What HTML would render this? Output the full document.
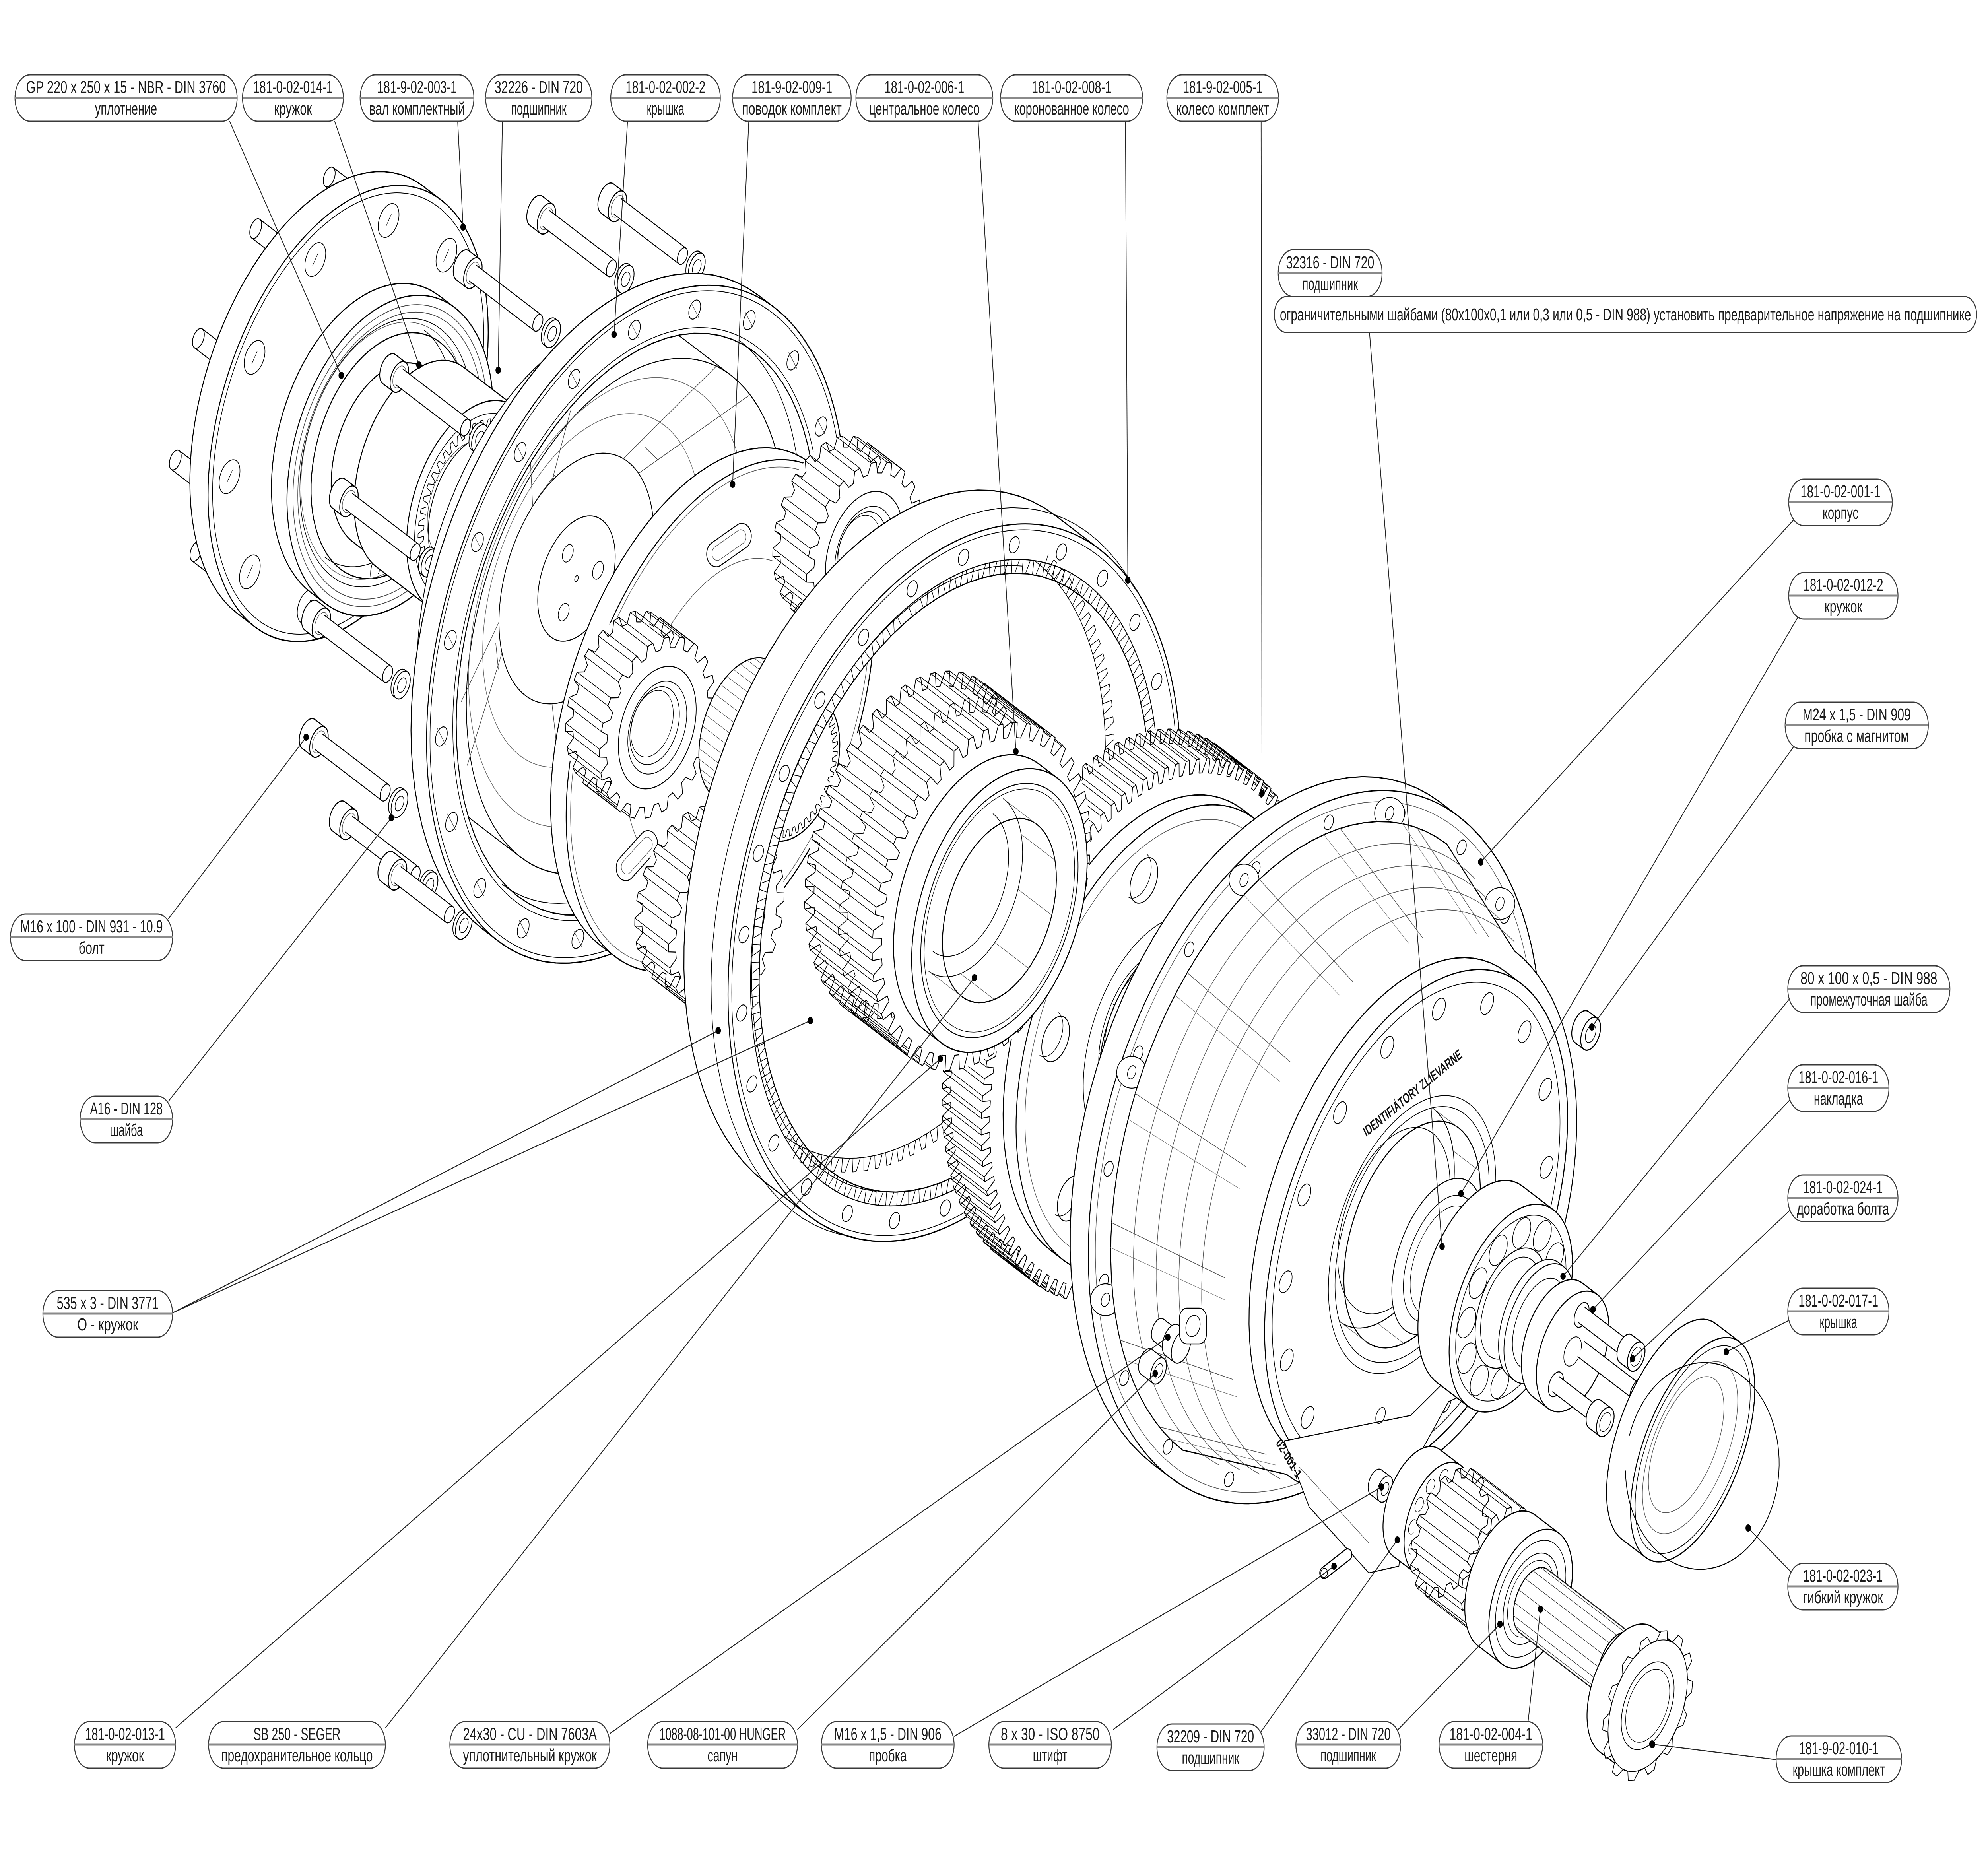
<!DOCTYPE html>
<html><head><meta charset="utf-8">
<style>
html,body{margin:0;padding:0;background:#fff;width:100%;height:100%;overflow:hidden;}
svg#s{display:block;width:100vw;height:100vh;}
.lb rect{fill:#fff;stroke:#3a3a3a;stroke-width:3}
.lb line{stroke:#8a8a8a;stroke-width:5}
.lb text{font-family:"Liberation Sans Narrow","Liberation Sans","Noto Sans CJK SC",sans-serif;font-size:44px;fill:#1a1a1a;text-anchor:middle}
.ld line{stroke:#222;stroke-width:2.5}
.ld circle{fill:#000}
</style></head>
<body>
<svg id="s" viewBox="0 0 6624 4673" preserveAspectRatio="none" xmlns="http://www.w3.org/2000/svg">
<rect width="6624" height="4673" fill="#fff"/>
<g id="draw" fill="none" stroke="#000" stroke-width="3" stroke-linejoin="round"></g>
<g id="txt" font-family="Liberation Sans, sans-serif" fill="#111">
<text x="0" y="0" font-size="36" font-weight="bold" textLength="380" lengthAdjust="spacingAndGlyphs" transform="translate(4552,2860) rotate(-32)">IDENTIFIÁTORY ZLIEVARNE</text>
<text x="0" y="0" font-size="34" font-weight="bold" textLength="115" lengthAdjust="spacingAndGlyphs" transform="translate(4250,3630) rotate(52)">02-001-1</text>
</g>
<g class="ld">
<line x1="765" y1="305" x2="1137" y2="944"/><circle cx="1137" cy="944" r="9"/>
<line x1="1115" y1="305" x2="1396" y2="918"/><circle cx="1396" cy="918" r="9"/>
<line x1="1525" y1="305" x2="1543" y2="571"/><circle cx="1543" cy="571" r="9"/>
<line x1="1674" y1="305" x2="1660" y2="931"/><circle cx="1660" cy="931" r="9"/>
<line x1="2091" y1="305" x2="2046" y2="841"/><circle cx="2046" cy="841" r="9"/>
<line x1="2495" y1="305" x2="2441" y2="1218"/><circle cx="2441" cy="1218" r="9"/>
<line x1="3259" y1="305" x2="3385" y2="1890"/><circle cx="3385" cy="1890" r="9"/>
<line x1="3750" y1="305" x2="3758" y2="1459"/><circle cx="3758" cy="1459" r="9"/>
<line x1="4202" y1="305" x2="4205" y2="1995"/><circle cx="4205" cy="1995" r="9"/>
<line x1="4563" y1="835" x2="4805" y2="3135"/><circle cx="4805" cy="3135" r="9"/>
<line x1="5977" y1="1307" x2="4934" y2="2168"/><circle cx="4934" cy="2168" r="9"/>
<line x1="5993" y1="1549" x2="4868" y2="3002"/><circle cx="4868" cy="3002" r="9"/>
<line x1="5988" y1="1866" x2="5304" y2="2583"/><circle cx="5304" cy="2583" r="9"/>
<line x1="5979" y1="2497" x2="5208" y2="3210"/><circle cx="5208" cy="3210" r="9"/>
<line x1="5979" y1="2754" x2="5308" y2="3293"/><circle cx="5308" cy="3293" r="9"/>
<line x1="5988" y1="3027" x2="5440" y2="3417"/><circle cx="5440" cy="3417" r="9"/>
<line x1="5971" y1="3317" x2="5752" y2="3400"/><circle cx="5752" cy="3400" r="9"/>
<line x1="5971" y1="3956" x2="5825" y2="3843"/><circle cx="5825" cy="3843" r="9"/>
<line x1="5922" y1="4426" x2="5505" y2="4387"/><circle cx="5505" cy="4387" r="10"/>
<line x1="561" y1="2311" x2="1020" y2="1854"/><circle cx="1020" cy="1854" r="9"/>
<line x1="561" y1="2770" x2="1304" y2="2057"/><circle cx="1304" cy="2057" r="9"/>
<line x1="575" y1="3302" x2="2393" y2="2592"/><circle cx="2393" cy="2592" r="9"/>
<line x1="575" y1="3302" x2="2700" y2="2567"/><circle cx="2700" cy="2567" r="9"/>
<line x1="585" y1="4346" x2="3133" y2="2663"/><circle cx="3133" cy="2663" r="9"/>
<line x1="1284" y1="4346" x2="3247" y2="2459"/><circle cx="3247" cy="2459" r="9"/>
<line x1="2032" y1="4360" x2="3891" y2="3363"/><circle cx="3891" cy="3363" r="9"/>
<line x1="2657" y1="4350" x2="3849" y2="3454"/><circle cx="3849" cy="3454" r="9"/>
<line x1="3179" y1="4367" x2="4603" y2="3740"/><circle cx="4603" cy="3740" r="9"/>
<line x1="3709" y1="4350" x2="4445" y2="3939"/><circle cx="4445" cy="3939" r="9"/>
<line x1="4201" y1="4356" x2="4656" y2="3873"/><circle cx="4656" cy="3873" r="9"/>
<line x1="4657" y1="4351" x2="4998" y2="4085"/><circle cx="4998" cy="4085" r="9"/>
<line x1="5091" y1="4334" x2="5133" y2="4047"/><circle cx="5133" cy="4047" r="9"/>
</g>
<g class="lb">
<rect x="50" y="188" width="740" height="117" rx="50" ry="58"/><line x1="50" y1="246" x2="790" y2="246"/>
<text x="420" y="234" textLength="666" lengthAdjust="spacingAndGlyphs">GP 220 x 250 x 15 - NBR - DIN 3760</text>
<text x="420" y="288" textLength="207" lengthAdjust="spacingAndGlyphs">уплотнение</text>

<rect x="808" y="188" width="336" height="117" rx="50" ry="58"/><line x1="808" y1="246" x2="1144" y2="246"/>
<text x="976" y="234" textLength="266" lengthAdjust="spacingAndGlyphs">181-0-02-014-1</text>
<text x="976" y="288" textLength="126" lengthAdjust="spacingAndGlyphs">кружок</text>

<rect x="1200" y="188" width="379" height="117" rx="50" ry="58"/><line x1="1200" y1="246" x2="1579" y2="246"/>
<text x="1389.5" y="234" textLength="266" lengthAdjust="spacingAndGlyphs">181-9-02-003-1</text>
<text x="1389.5" y="288" textLength="319" lengthAdjust="spacingAndGlyphs">вал комплектный</text>

<rect x="1618" y="188" width="354" height="117" rx="50" ry="58"/><line x1="1618" y1="246" x2="1972" y2="246"/>
<text x="1795" y="234" textLength="294" lengthAdjust="spacingAndGlyphs">32226 - DIN 720</text>
<text x="1795" y="288" textLength="185" lengthAdjust="spacingAndGlyphs">подшипник</text>

<rect x="2035" y="188" width="365" height="117" rx="50" ry="58"/><line x1="2035" y1="246" x2="2400" y2="246"/>
<text x="2217.5" y="234" textLength="266" lengthAdjust="spacingAndGlyphs">181-0-02-002-2</text>
<text x="2217.5" y="288" textLength="125" lengthAdjust="spacingAndGlyphs">крышка</text>

<rect x="2441" y="188" width="395" height="117" rx="50" ry="58"/><line x1="2441" y1="246" x2="2836" y2="246"/>
<text x="2638.5" y="234" textLength="269" lengthAdjust="spacingAndGlyphs">181-9-02-009-1</text>
<text x="2638.5" y="288" textLength="332" lengthAdjust="spacingAndGlyphs">поводок комплект</text>

<rect x="2852" y="188" width="456" height="117" rx="50" ry="58"/><line x1="2852" y1="246" x2="3308" y2="246"/>
<text x="3080" y="234" textLength="266" lengthAdjust="spacingAndGlyphs">181-0-02-006-1</text>
<text x="3080" y="288" textLength="369" lengthAdjust="spacingAndGlyphs">центральное колесо</text>

<rect x="3334" y="188" width="473" height="117" rx="50" ry="58"/><line x1="3334" y1="246" x2="3807" y2="246"/>
<text x="3570.5" y="234" textLength="266" lengthAdjust="spacingAndGlyphs">181-0-02-008-1</text>
<text x="3570.5" y="288" textLength="383" lengthAdjust="spacingAndGlyphs">коронованное колесо</text>

<rect x="3888" y="188" width="372" height="117" rx="50" ry="58"/><line x1="3888" y1="246" x2="4260" y2="246"/>
<text x="4074" y="234" textLength="266" lengthAdjust="spacingAndGlyphs">181-9-02-005-1</text>
<text x="4074" y="288" textLength="309" lengthAdjust="spacingAndGlyphs">колесо комплект</text>

<rect x="4259" y="628" width="346" height="118" rx="50" ry="58"/><line x1="4259" y1="687" x2="4605" y2="687"/>
<text x="4432" y="675" textLength="294" lengthAdjust="spacingAndGlyphs">32316 - DIN 720</text>
<text x="4432" y="729" textLength="185" lengthAdjust="spacingAndGlyphs">подшипник</text>

<rect x="4246" y="746" width="2340" height="90" rx="40" ry="45"/>
<text x="5416" y="806" textLength="2303" lengthAdjust="spacingAndGlyphs">ограничительными шайбами (80x100x0,1 или 0,3 или 0,5 - DIN 988) установить предварительное напряжение на подшипнике</text>

<rect x="5960" y="1205" width="345" height="117" rx="50" ry="58"/><line x1="5960" y1="1263" x2="6305" y2="1263"/>
<text x="6132.5" y="1251" textLength="266" lengthAdjust="spacingAndGlyphs">181-0-02-001-1</text>
<text x="6132.5" y="1305" textLength="120" lengthAdjust="spacingAndGlyphs">корпус</text>

<rect x="5960" y="1440" width="364" height="117" rx="50" ry="58"/><line x1="5960" y1="1498" x2="6324" y2="1498"/>
<text x="6142" y="1486" textLength="266" lengthAdjust="spacingAndGlyphs">181-0-02-012-2</text>
<text x="6142" y="1540" textLength="126" lengthAdjust="spacingAndGlyphs">кружок</text>

<rect x="5948" y="1766" width="477" height="117" rx="50" ry="58"/><line x1="5948" y1="1824" x2="6425" y2="1824"/>
<text x="6186.5" y="1812" textLength="361" lengthAdjust="spacingAndGlyphs">M24 x 1,5 - DIN 909</text>
<text x="6186.5" y="1866" textLength="348" lengthAdjust="spacingAndGlyphs">пробка с магнитом</text>

<rect x="5957" y="2429" width="540" height="117" rx="50" ry="58"/><line x1="5957" y1="2487" x2="6497" y2="2487"/>
<text x="6227" y="2475" textLength="456" lengthAdjust="spacingAndGlyphs">80 x 100 x 0,5 - DIN 988</text>
<text x="6227" y="2529" textLength="390" lengthAdjust="spacingAndGlyphs">промежуточная шайба</text>

<rect x="5957" y="2678" width="337" height="117" rx="50" ry="58"/><line x1="5957" y1="2736" x2="6294" y2="2736"/>
<text x="6125.5" y="2724" textLength="266" lengthAdjust="spacingAndGlyphs">181-0-02-016-1</text>
<text x="6125.5" y="2778" textLength="164" lengthAdjust="spacingAndGlyphs">накладка</text>

<rect x="5957" y="2955" width="367" height="117" rx="50" ry="58"/><line x1="5957" y1="3013" x2="6324" y2="3013"/>
<text x="6140.5" y="3001" textLength="266" lengthAdjust="spacingAndGlyphs">181-0-02-024-1</text>
<text x="6140.5" y="3055" textLength="308" lengthAdjust="spacingAndGlyphs">доработка болта</text>

<rect x="5957" y="3240" width="337" height="117" rx="50" ry="58"/><line x1="5957" y1="3298" x2="6294" y2="3298"/>
<text x="6125.5" y="3286" textLength="266" lengthAdjust="spacingAndGlyphs">181-0-02-017-1</text>
<text x="6125.5" y="3340" textLength="125" lengthAdjust="spacingAndGlyphs">крышка</text>

<rect x="5957" y="3932" width="367" height="117" rx="50" ry="58"/><line x1="5957" y1="3990" x2="6324" y2="3990"/>
<text x="6140.5" y="3978" textLength="266" lengthAdjust="spacingAndGlyphs">181-0-02-023-1</text>
<text x="6140.5" y="4032" textLength="267" lengthAdjust="spacingAndGlyphs">гибкий кружок</text>

<rect x="5918" y="4366" width="418" height="117" rx="50" ry="58"/><line x1="5918" y1="4424" x2="6336" y2="4424"/>
<text x="6127" y="4412" textLength="266" lengthAdjust="spacingAndGlyphs">181-9-02-010-1</text>
<text x="6127" y="4466" textLength="308" lengthAdjust="spacingAndGlyphs">крышка комплект</text>

<rect x="35" y="2299" width="540" height="117" rx="50" ry="58"/><line x1="35" y1="2357" x2="575" y2="2357"/>
<text x="305" y="2345" textLength="475" lengthAdjust="spacingAndGlyphs">M16 x 100 - DIN 931 - 10.9</text>
<text x="305" y="2399" textLength="86" lengthAdjust="spacingAndGlyphs">болт</text>

<rect x="267" y="2757" width="308" height="117" rx="50" ry="58"/><line x1="267" y1="2815" x2="575" y2="2815"/>
<text x="421" y="2803" textLength="242" lengthAdjust="spacingAndGlyphs">A16 - DIN 128</text>
<text x="421" y="2857" textLength="110" lengthAdjust="spacingAndGlyphs">шайба</text>

<rect x="143" y="3246" width="432" height="117" rx="50" ry="58"/><line x1="143" y1="3304" x2="575" y2="3304"/>
<text x="359" y="3292" textLength="340" lengthAdjust="spacingAndGlyphs">535 x 3 - DIN 3771</text>
<text x="359" y="3346" textLength="203" lengthAdjust="spacingAndGlyphs">O - кружок</text>

<rect x="248" y="4330" width="337" height="117" rx="50" ry="58"/><line x1="248" y1="4388" x2="585" y2="4388"/>
<text x="416.5" y="4376" textLength="266" lengthAdjust="spacingAndGlyphs">181-0-02-013-1</text>
<text x="416.5" y="4430" textLength="126" lengthAdjust="spacingAndGlyphs">кружок</text>

<rect x="695" y="4330" width="589" height="117" rx="50" ry="58"/><line x1="695" y1="4388" x2="1284" y2="4388"/>
<text x="989.5" y="4376" textLength="290" lengthAdjust="spacingAndGlyphs">SB 250 - SEGER</text>
<text x="989.5" y="4430" textLength="505" lengthAdjust="spacingAndGlyphs">предохранительное кольцо</text>

<rect x="1499" y="4330" width="533" height="117" rx="50" ry="58"/><line x1="1499" y1="4388" x2="2032" y2="4388"/>
<text x="1765.5" y="4376" textLength="446" lengthAdjust="spacingAndGlyphs">24x30 - CU - DIN 7603A</text>
<text x="1765.5" y="4430" textLength="446" lengthAdjust="spacingAndGlyphs">уплотнительный кружок</text>

<rect x="2158" y="4330" width="499" height="117" rx="50" ry="58"/><line x1="2158" y1="4388" x2="2657" y2="4388"/>
<text x="2407.5" y="4376" textLength="421" lengthAdjust="spacingAndGlyphs">1088-08-101-00 HUNGER</text>
<text x="2407.5" y="4430" textLength="100" lengthAdjust="spacingAndGlyphs">сапун</text>

<rect x="2737" y="4330" width="442" height="117" rx="50" ry="58"/><line x1="2737" y1="4388" x2="3179" y2="4388"/>
<text x="2958" y="4376" textLength="358" lengthAdjust="spacingAndGlyphs">M16 x 1,5 - DIN 906</text>
<text x="2958" y="4430" textLength="126" lengthAdjust="spacingAndGlyphs">пробка</text>

<rect x="3295" y="4330" width="408" height="117" rx="50" ry="58"/><line x1="3295" y1="4388" x2="3703" y2="4388"/>
<text x="3499" y="4376" textLength="329" lengthAdjust="spacingAndGlyphs">8 x 30 - ISO 8750</text>
<text x="3499" y="4430" textLength="115" lengthAdjust="spacingAndGlyphs">штифт</text>

<rect x="3855" y="4336" width="357" height="117" rx="50" ry="58"/><line x1="3855" y1="4394" x2="4212" y2="4394"/>
<text x="4033.5" y="4382" textLength="290" lengthAdjust="spacingAndGlyphs">32209 - DIN 720</text>
<text x="4033.5" y="4436" textLength="191" lengthAdjust="spacingAndGlyphs">подшипник</text>

<rect x="4318" y="4330" width="349" height="117" rx="50" ry="58"/><line x1="4318" y1="4388" x2="4667" y2="4388"/>
<text x="4492.5" y="4376" textLength="282" lengthAdjust="spacingAndGlyphs">33012 - DIN 720</text>
<text x="4492.5" y="4430" textLength="185" lengthAdjust="spacingAndGlyphs">подшипник</text>

<rect x="4795" y="4330" width="345" height="117" rx="50" ry="58"/><line x1="4795" y1="4388" x2="5140" y2="4388"/>
<text x="4967.5" y="4376" textLength="276" lengthAdjust="spacingAndGlyphs">181-0-02-004-1</text>
<text x="4967.5" y="4430" textLength="176" lengthAdjust="spacingAndGlyphs">шестерня</text>
</g>
</svg>
<script>
(function(){
var NS='http://www.w3.org/2000/svg',G=document.getElementById('draw'),PI=Math.PI;
var U=[0.8660254,0.5],V=[0.5,-0.8660254];
function el(t,a,p){var e=document.createElementNS(NS,t);for(var k in a)e.setAttribute(k,a[k]);(p||G).appendChild(e);return e;}
function mv(c,d){return[c[0]+d*U[0],c[1]+d*U[1]];}
function lerp(a,b,f){return[a[0]+(b[0]-a[0])*f,a[1]+(b[1]-a[1])*f];}
function P(c,r,k,t){var x=r*k*Math.cos(t),y=r*Math.sin(t);return[c[0]+x*U[0]+y*V[0],c[1]+x*U[1]+y*V[1]];}
function A(c,r,k,t0,t1,n){n=n||48;var a=[];for(var i=0;i<=n;i++)a.push(P(c,r,k,t0+(t1-t0)*i/n));return a;}
function D(p,z){return'M'+p.map(function(q){return q[0].toFixed(1)+' '+q[1].toFixed(1);}).join('L')+(z?'Z':'');}
function pth(d,o){o=o||{};return el('path',{d:d,fill:o.f||'none',stroke:o.s||'#000','stroke-width':o.w||3,'fill-rule':'evenodd','stroke-linejoin':'round','stroke-linecap':'round'});}
function E(c,r,k,o){o=o||{};var x=c[0].toFixed(1),y=c[1].toFixed(1);return el('ellipse',{cx:x,cy:y,rx:(r*k).toFixed(1),ry:r.toFixed(1),transform:'rotate(30 '+x+' '+y+')',fill:o.f||'none',stroke:o.s||'#000','stroke-width':o.w||3});}
function arc(c,r,k,t0,t1,o){return pth(D(A(c,r,k,t0,t1,60)),o);}
function sil(cb,cf,r,k,rf){rf=rf||r;return A(cb,r,k,PI/2,1.5*PI).concat(A(cf,rf,k,1.5*PI,2.5*PI));}
function solid(cb,cf,r,k,o){o=o||{};pth(D(sil(cb,cf,r,k),true),{f:'#fff',w:o.w||3});E(cf,r,k,{w:o.w||3});}
function cone(cb,cf,rb,rf,k,o){o=o||{};pth(D(sil(cb,cf,rb,k,rf),true),{f:'#fff',w:o.w||3});}
function hollow(cb,cf,ro,ri,k,o){o=o||{};pth(D(sil(cb,cf,ro,k),true)+D(A(cf,ri,k,0,2*PI,80),true),{f:'#fff',w:o.w||3});E(cf,ro,k,{w:o.w||3});arc(cb,ri,k,-PI/2,PI/2,{w:2});}
function line(p,q,o){return pth(D([p,q]),o||{w:2});}
function teethD(c,rr,rt,k,n,cond,closed){var s=2*PI/n,d='',run=[];
 for(var i=0;i<n;i++){var t=i*s;if(!cond||cond(t)){run.push(P(c,rr,k,t),P(c,rt,k,t+.18*s),P(c,rt,k,t+.5*s),P(c,rr,k,t+.68*s));}else{if(run.length>1)d+=D(run);run=[];}}
 if(run.length>1)d+=D(run,closed&&!cond);return d;}
function gear(cb,cf,rr,rt,n,k){var s=2*PI/n;
 pth(D(sil(cb,cf,rt,k),true),{f:'#fff',s:'none'});
 pth(teethD(cb,rr,rt,k,n,null,true),{w:2.3});
 var d='';for(var i=0;i<n;i++){var t=i*s;if(Math.cos(t+.34*s)<0.25){[.18,.5].forEach(function(f){d+=D([P(cb,rt,k,t+f*s),P(cf,rt,k,t+f*s)]);});}}
 if(d)pth(d,{w:1.8});
 pth(teethD(cf,rr,rt,k,n,null,true),{f:'#fff',w:2.3});}
function holes(c,r,k,n,hr,t0,o){o=o||{};for(var i=0;i<n;i++){var p=P(c,r,k,t0+i*2*PI/n);E(p,hr,k,{f:'#fff',w:o.w||2.2});if(o.tick){var a=P(p,hr*1.3,k,PI*0.9),b=P(p,hr*1.3,k,-PI*0.1);line(a,b,{w:1.6,s:'#444'});}}}
function stud(e,L){var w=27,f=mv(e,L);var q=[[e[0]+w*V[0],e[1]+w*V[1]],[f[0]+w*V[0],f[1]+w*V[1]],[f[0]-w*V[0],f[1]-w*V[1]],[e[0]-w*V[0],e[1]-w*V[1]]];
 pth(D(q,true),{f:'#fff',s:'none'});pth(D([q[0],q[1]])+D([q[2],q[3]]),{w:2.5});E(e,w,.62,{f:'#fff',w:2.5});}
function washer(c,ro,ri){solid(mv(c,-10),c,ro,.62,{w:2.5});E(c,ri,.62,{w:2});}
function bolt(h,L,wash){var hf=mv(h,40);solid(h,hf,42,.62,{w:2.8});E(hf,30,.62,{w:1.6,s:'#555'});
 var w=23,e=mv(hf,L);var q=[[hf[0]+w*V[0],hf[1]+w*V[1]],[e[0]+w*V[0],e[1]+w*V[1]],[e[0]-w*V[0],e[1]-w*V[1]],[hf[0]-w*V[0],hf[1]-w*V[1]]];
 pth(D(q,true),{f:'#fff',s:'none'});pth(D([q[0],q[1]])+D([q[2],q[3]]),{w:2.5});E(e,w,.62,{f:'#fff',w:2.5});
 if(wash!==false)washer(mv(e,55),38,20);}
function boltR(s,L){var w=22,e=mv(s,L);var q=[[s[0]+w*V[0],s[1]+w*V[1]],[e[0]+w*V[0],e[1]+w*V[1]],[e[0]-w*V[0],e[1]-w*V[1]],[s[0]-w*V[0],s[1]-w*V[1]]];
 pth(D(q,true),{f:'#fff',s:'none'});pth(D([q[0],q[1]])+D([q[2],q[3]]),{w:2.5});solid(e,mv(e,40),40,.62,{w:2.8});E(mv(e,40),26,.62,{w:1.6});}

[[1097,445],[852,575],[661,851],[584,1157],[653,1387]].forEach(function(p){stud(p,330);});

var FC=[1160,1040];
solid(mv(FC,-70),FC,620,.65);
E(FC,600,.65,{w:2});
holes(FC,525,.65,10,46,PI/2-0.25,{});
for(var i=0;i<10;i++){var p=P(FC,525,.65,PI/2-0.25+i*2*PI/10);line(P(p,18,.65,PI/2),P(p,18,.65,-PI/2),{w:1.5});}

bolt([2023,499],250);bolt([1786,530],250);bolt([1541,667],250);

var HC=[1300,1146];
hollow(mv(HC,-60),HC,430,330,.72);
E(HC,405,.72,{w:2,s:'#444'});E(HC,385,.72,{w:2,s:'#444'});
E(mv(HC,-15),360,.72,{w:2});E(mv(HC,-25),345,.72,{w:1.6,s:'#555'});
solid([1300,1146],[1400,1204],250,.7);
var BB=[1400,1175],BF=[1575,1276];
solid(BB,BF,290,.66);
E(BF,255,.66,{w:2});
pth(teethD(BF,240,215,.66,44,null,true),{w:2});
E(BF,195,.66,{f:'#fff',w:2.5});E(mv(BF,-30),165,.66,{w:1.8,s:'#444'});
for(var i=0;i<14;i++){var t=i*2*PI/14;line(P(BF,195,.66,t),P(mv(BF,-30),165,.66,t),{w:1.4,s:'#555'});}

bolt([1296,928],255);bolt([1128,1241],255);bolt([1036,1548],255);bolt([1028,1846],255);bolt([1128,2053],255);bolt([1290,2180],200);

var CV=[2120,1570],ck=.66,DB=mv(CV,-230);
solid(DB,mv(CV,-40),700,ck,{w:2.5});
E(mv(CV,-110),610,ck,{w:1.8,s:'#666'});
E(mv(CV,-170),480,ck,{w:1.8,s:'#666'});
E(DB,340,ck,{w:2.5});
[0.25,1.5,2.75,4.0,5.25].forEach(function(t){
 var a1=P(DB,340,ck,t-.14),a2=P(mv(CV,-60),700,ck,t-.14),b1=P(DB,340,ck,t+.14),b2=P(mv(CV,-60),700,ck,t+.14);
 line(a1,a2,{w:1.8,s:'#444'});line(b1,b2,{w:1.8,s:'#444'});
 line(P(mv(DB,40),400,ck,t-.1),P(mv(DB,40),400,ck,t+.1),{w:1.8,s:'#444'});});
E(DB,170,ck,{f:'#fff',w:2.5});
E(P(DB,95,ck,0.6),24,ck,{w:2});E(P(DB,95,ck,2.7),24,ck,{w:2});E(P(DB,95,ck,4.8),24,ck,{w:2});E(DB,8,ck,{w:2});
hollow(mv(CV,-60),CV,920,790,ck);
E(CV,905,ck,{w:2});E(CV,805,ck,{w:2});
holes(CV,855,ck,20,26,0.1,{tick:true});

var CR=[2400,1800];
solid(mv(CR,-60),CR,700,.62);
E(CR,680,.62,{w:1.8,s:'#555'});
E(CR,430,.62,{w:1.8,s:'#555'});
function slot(c,ang){el('rect',{x:c[0]-80,y:c[1]-32,width:160,height:64,rx:32,transform:'rotate('+ang+' '+c[0]+' '+c[1]+')',fill:'#fff',stroke:'#000','stroke-width':2.5});
 el('rect',{x:c[0]-62,y:c[1]-18,width:124,height:36,rx:18,transform:'rotate('+ang+' '+c[0]+' '+c[1]+')',fill:'none',stroke:'#555','stroke-width':1.6});}
slot([2429,1371],-28);slot([2122,2152],-40);
var GA=[2190,1830];
gear(mv(GA,-130),GA,215,245,22,.7);
E(GA,165,.7,{f:'#fff',w:2.5});E(GA,125,.7,{w:2});E(mv(GA,-10),105,.7,{w:2});E(mv(GA,-20),90,.7,{w:1.6});
var SH=[2650,1935];
solid(mv(SH,-200),SH,195,.66);
pth(teethD(SH,185,165,.66,40,null,true),{w:2});
for(var i=0;i<20;i++){var t=PI/2+i*PI/20;line(P(SH,195,.66,t),P(mv(SH,-200),195,.66,t),{w:1.3,s:'#444'});}
var GC=[2420,2320];
gear(mv(GC,-130),GC,215,245,22,.7);
E(GC,165,.7,{f:'#fff',w:2.5});E(GC,120,.7,{w:2});
var GB=[2880,1390];
gear(mv(GB,-130),GB,215,245,22,.7);
E(GB,165,.7,{f:'#fff',w:2.5});E(GB,125,.7,{w:2});E(mv(GB,-10),105,.7,{w:2});E(mv(GB,-20),90,.7,{w:1.6});

var RC=[3180,2220],rk=.69;
hollow(mv(RC,-170),RC,968,835,rk);
E(RC,952,rk,{w:2});E(RC,872,rk,{w:2.5});
holes(RC,912,rk,26,22,0.05,{});
pth(teethD(RC,872,835,rk,110,null,true),{w:1.8});
pth(teethD(mv(RC,-170),872,835,rk,110,function(t){return Math.cos(t)>0.08;},false),{w:1.8});
arc(mv(RC,-50),985,rk,PI/2-0.3,1.5*PI+0.3,{w:2});
arc(mv(RC,-20),845,rk,PI*0.6,PI*1.6,{w:2});

var BC=[3820,2590];
gear(mv(BC,-150),BC,700,738,96,.64);
var BP=mv(BC,50);
solid(BC,BP,640,.64);
E(BP,600,.64,{w:1.8,s:'#555'});
for(var i=0;i<6;i++){var p=P(BP,500,.64,i*PI/3+.35);E(p,62,.64,{f:'#fff',w:2.5});arc(mv(p,-25),62,.64,-PI/2,PI/2,{w:1.8});}
E(BP,340,.64,{w:2});
pth(D(A(BP,270,.64,0,2*PI,72),true),{f:'#fff',w:3});
arc(mv(BP,-70),270,.64,-PI/2,PI/2,{w:2});
E(mv(BP,-40),225,.64,{w:2});E(mv(BP,-55),185,.64,{w:2});
for(var i=0;i<10;i++){var t=i*2*PI/10;line(P(mv(BP,-40),225,.64,t),P(mv(BP,-55),185,.64,t),{w:1.4});}

var CC=[3330,2290];
gear(mv(CC,-330),mv(CC,-70),430,470,46,.68);
pth(teethD(mv(CC,-200),430,470,.68,46,function(t){return Math.cos(t)<-0.1;},false),{w:1.8});
solid(mv(CC,-70),CC,385,.66);
E(CC,345,.66,{w:2.5});E(CC,330,.66,{w:1.6});
pth(D(A(CC,250,.66,0,2*PI,72),true),{f:'#fff',w:3});
arc(mv(CC,-130),250,.66,-PI/2,PI/2,{w:2});arc(mv(CC,-140),200,.66,-PI/2,PI/2,{w:2});
for(var i=0;i<6;i++){var t=-PI/2+i*PI/5;line(P(CC,250,.66,t),P(mv(CC,-130),250,.66,t),{w:1.4,s:'#555'});}

var H0=[4320,2850],H1=mv(H0,70),H2=mv(H0,400),H3=mv(H2,60);
solid(H0,H1,960,.7);
E(H1,930,.7,{w:1.8,s:'#555'});
holes(H1,900,.7,18,20,0.1,{});
[1.2,1.9,2.6,3.3,4.0].forEach(function(t){var p=P(H1,900,.7,t);el('ellipse',{cx:p[0].toFixed(1),cy:p[1].toFixed(1),rx:50,ry:40,fill:'#fff',stroke:'#000','stroke-width':2.2});E(p,18,.7,{w:2});});
cone(H1,H2,880,760,.68);
for(var j=1;j<=4;j++){var f=j/5;arc(lerp(H1,H2,f),880-120*f,.68,PI/2-0.1,1.5*PI+0.1,{w:1.8,s:'#555'});}
[1.75,2.15,2.55,2.95,3.35,3.75,4.15,4.55].forEach(function(t){line(P(H1,880,.68,t),P(H2,760,.68,t),{w:1.8,s:'#555'});line(P(H1,880,.68,t+.08),P(H2,760,.68,t+.08),{w:1.4,s:'#777'});});
solid(H2,H3,700,.6);
E(H3,665,.6,{w:2});
holes(H3,612,.6,16,30,0.2,{});
var BO=[4705,3105];
E(BO,380,.62,{w:2});E(BO,350,.62,{w:2});
pth(D(A(BO,310,.62,0,2*PI,72),true),{f:'#fff',w:3});
arc(mv(BO,-100),310,.62,-PI/2,PI/2,{w:2.5});
E(mv(BO,-70),255,.62,{w:2});
for(var i=0;i<6;i++){var t=-PI/2+i*PI/5;line(P(BO,310,.62,t),P(mv(BO,-100),310,.62,t),{w:1.4,s:'#555'});}
solid([3820,3425],[3860,3448],36,.62,{w:2.5});E([3860,3448],20,.62,{w:1.8});
solid([3860,3345],[3905,3371],32,.62,{w:2.5});solid([3905,3371],[3935,3388],44,.62,{w:2.5});
el('rect',{x:3930,y:3290,width:90,height:90,rx:25,fill:'#fff',stroke:'#000','stroke-width':2.5});
E([3975,3335],28,.8,{w:2});
pth(D([[4279,3624],[4362,3790],[4561,3956],[4661,3939],[4694,3707],[4827,3525],[4877,3508],[4860,3440],[4700,3560]],true),{f:'#fff',w:2.5});
line([4330,3690],[4560,3880],{w:1.6,s:'#555'});
E([4600,3560],22,.62,{w:2});

E([4790,3160],215,.58,{f:'#fff',w:2.5});E([4800,3166],175,.58,{w:2});E([4805,3170],150,.58,{w:1.6});
var RB0=[4930,3230],RB1=[5034,3290];
solid(RB0,RB1,285,.6);
E(RB1,255,.6,{w:2});
for(var i=0;i<12;i++){E(P(RB1,210,.6,i*2*PI/12),42,.6,{f:'#fff',w:2});}
E(RB1,165,.6,{f:'#fff',w:2.5});E(RB1,140,.6,{w:2});
solid([5110,3318],[5128,3329],165,.58,{w:2.5});E([5128,3329],125,.58,{w:2});
var NK0=[5190,3370],NK1=[5240,3399];
solid(NK0,NK1,165,.62);
var h1=P(NK1,100,.62,1.9),h2=P(NK1,100,.62,4.6);
E(h1,34,.62,{f:'#fff',w:2.5});E(h2,34,.62,{f:'#fff',w:2.5});E(NK1,40,.62,{w:2});
boltR(h1,170);boltR(h2,150);boltR(P(NK1,40,.62,0.5),220);
solid([5270,2583],[5300,2600],45,.62);E([5300,2600],24,.62,{w:2});
var CP0=[5560,3600],CP1=[5640,3646];
solid(CP0,CP1,313,.5);
E(CP1,290,.5,{w:2});E(mv(CP1,-10),240,.5,{w:1.8,s:'#555'});E(mv(CP1,-25),190,.5,{w:1.8,s:'#555'});
pth(D(A([5672,3687],262,.97,3.7,3.7+2*PI-0.35,90)),{w:2.5});

el('line',{x1:4412,y1:3956,x2:4490,y2:3910,stroke:'#000','stroke-width':32,'stroke-linecap':'round'});
el('line',{x1:4412,y1:3956,x2:4490,y2:3910,stroke:'#fff','stroke-width':26,'stroke-linecap':'round'});
E([4412,3956],12,.9,{w:2});
solid([4585,3728],[4615,3745],36,.62,{w:2.5});E([4615,3745],18,.62,{w:1.8});
var L0=[4720,3780],L1=[4790,3820];
solid(L0,L1,155,.6);
for(var i=0;i<12;i++){E(P(L1,118,.6,i*2*PI/12),20,.6,{w:1.6});}
E(L1,95,.6,{f:'#fff',w:2.2});
gear([4830,3855],[5000,3953],150,178,16,.62);
E([5000,3953],120,.62,{w:2});
var M0=[5020,3975],M1=[5100,4021];
solid(M0,M1,190,.62);
E(M1,160,.62,{w:2});E(M1,125,.62,{f:'#fff',w:2.2});E(M1,105,.62,{w:1.6});
var S0=[5110,4027],S1=[5390,4189];
solid(S0,S1,92,.62);
for(var i=0;i<9;i++){var t=PI/2+i*PI/8;line(P(S0,92,.62,t),P(S1,92,.62,t),{w:1.5,s:'#333'});}
var K0=[5420,4250],K1=[5490,4290];
solid(K0,K1,180,.62);
pth(teethD(K1,180,205,.62,14,null,true),{f:'#fff',w:2.2});
E(K1,180,.62,{w:2});E(K1,120,.62,{f:'#fff',w:2.2});E(K1,100,.62,{w:1.6});
})();
</script>
</body></html>
